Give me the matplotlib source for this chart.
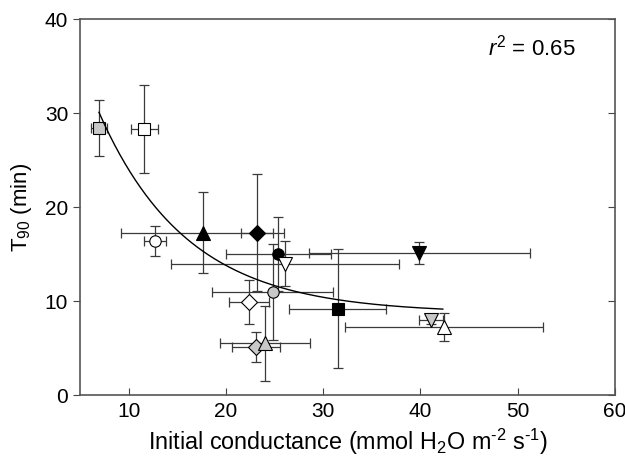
import matplotlib
matplotlib.use("Agg")
import matplotlib.pyplot as plt
import numpy as np

plt.rcParams["font.family"] = ["Liberation Sans", "DejaVu Sans"]
plt.rcParams["mathtext.fontset"] = "custom"
plt.rcParams["mathtext.rm"] = "Liberation Sans"
plt.rcParams["mathtext.it"] = "Liberation Sans:italic"

# one entry per plant/treatment
cond = [6.95, 11.6, 12.7, 17.6, 23.2, 25.4, 26.1, 39.9, 24.8, 22.4, 31.5, 41.1, 42.4, 23.1, 24.0]
cond_err = [0.8, 1.4, 1.1, 8.4, 1.6, 5.4, 11.7, 11.4, 6.2, 2.05, 5.0, 1.2, 10.2, 2.5, 4.6]
t90 = [28.4, 28.3, 16.4, 17.3, 17.3, 15.0, 14.0, 15.1, 11.0, 9.9, 9.2, 8.0, 7.2, 5.1, 5.5]
t90_err = [3.0, 4.7, 1.6, 4.3, 6.2, 3.9, 2.4, 1.15, 5.1, 2.3, 6.3, 0.4, 1.5, 1.6, 4.0]
markers = ["s", "s", "o", "^", "D", "o", "v", "v", "o", "D", "s", "v", "^", "D", "^"]
fills = ["#c8c8c8", "white", "white", "black", "black", "black", "white", "black",
         "#c8c8c8", "white", "black", "#c8c8c8", "white", "#c8c8c8", "#c8c8c8"]

# exponential decay fit y = a + b*exp(-c*x), r2 = 0.65
FIT_A, FIT_B, FIT_C = 8.71, 45.94, 0.11
FIT_RANGE = (6.95, 42.3)

MS = {"s": 8.2, "o": 8.2, "D": 7.8, "^": 10.0, "v": 10.0}


def main():
    fig = plt.figure(figsize=(6.25, 4.65), dpi=100)
    ax = fig.add_axes([0.128, 0.1505, 0.856, 0.808])

    for x, xe, y, ye, m, fc in zip(cond, cond_err, t90, t90_err, markers, fills):
        ax.errorbar(x, y, xerr=xe, yerr=ye, fmt="none", ecolor="#3a3a3a",
                    elinewidth=0.9, capsize=3.3, capthick=0.9, zorder=2)
        ax.plot(x, y, marker=m, ms=MS[m], mfc=fc, mec="black", mew=0.8,
                ls="none", zorder=3)

    xs = np.linspace(*FIT_RANGE, 200)
    ax.plot(xs, FIT_A + FIT_B * np.exp(-FIT_C * xs), color="black", lw=1.0, zorder=4)

    ax.text(46.9, 37.0, r"$r^2$ = 0.65", fontsize=16, va="center", ha="left")

    ax.set_xlim(5, 60)
    ax.set_ylim(0, 40)
    ax.set_xticks([10, 20, 30, 40, 50, 60])
    ax.set_yticks([0, 10, 20, 30, 40])
    ax.tick_params(axis="x", direction="in", length=5, labelsize=15, pad=5, color="#444444")
    ax.tick_params(axis="y", direction="out", length=5, labelsize=15, color="#444444")
    ax.tick_params(axis="y", right=True, labelright=False)
    # right-hand ticks point inward, left ones outward
    for t in ax.yaxis.get_major_ticks():
        t.tick2line.set_marker(matplotlib.lines.TICKLEFT)
    for s in ax.spines.values():
        s.set_color("#555555")
        s.set_linewidth(1.2)

    ax.set_xlabel(r"Initial conductance (mmol H$_2$O m$^{\text{-}2}$ s$^{\text{-}1}$)",
                  fontsize=16.8, labelpad=4)
    ax.set_ylabel(r"T$_{90}$ (min)", fontsize=16, labelpad=8)

    fig.savefig("out.png", dpi=100)
    plt.close(fig)


if __name__ == "__main__":
    main()
